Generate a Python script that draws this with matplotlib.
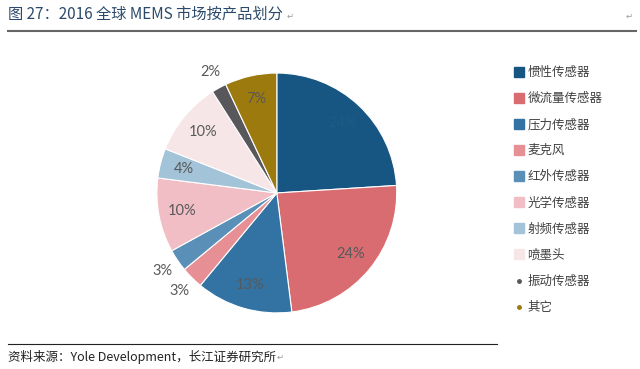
import numpy as np
import matplotlib.pyplot as plt
from matplotlib.lines import Line2D

plt.rcParams['font.family'] = ['Noto Sans CJK SC', 'DejaVu Sans']

# 2016 全球 MEMS 市场按产品划分
labels = ['惯性传感器', '微流量传感器', '压力传感器', '麦克风', '红外传感器',
          '光学传感器', '射频传感器', '喷墨头', '振动传感器', '其它']
shares = [24, 24, 13, 3, 3, 10, 4, 10, 2, 7]
colors = ['#175683', '#D96C71', '#3273A3', '#E68F95', '#5A8FB8',
          '#F0BEC4', '#A3C3D8', '#F6E6E8', '#58585C', '#9C7A0E']
outside = [3, 4, 8]  # small slices labelled outside the pie

fig = plt.figure(figsize=(6.4, 3.69), dpi=100)
fig.patch.set_facecolor('white')

ax = fig.add_axes([0.245, 0.152, 0.375, 0.65])
wedges, texts, autotexts = ax.pie(
    shares, colors=colors, startangle=90, counterclock=False,
    autopct='%d%%', pctdistance=0.8,
    wedgeprops=dict(edgecolor='white', linewidth=0.8),
    textprops=dict(color='#595959', fontsize=10.5, family=['Lato', 'DejaVu Sans']))
for i, t in enumerate(autotexts):
    if i in outside:
        w = wedges[i]
        ang = np.deg2rad((w.theta1 + w.theta2) / 2)
        t.set_position((1.15 * np.cos(ang), 1.15 * np.sin(ang)))
autotexts[0].set_color('#1E5A86')
ax.set_xlim(-1, 1)
ax.set_ylim(-1, 1)
ax.set_aspect('equal')

# legend
handles = []
for i, (lab, c) in enumerate(zip(labels, colors)):
    if i < 8:
        handles.append(Line2D([], [], marker='s', linestyle='none', markersize=7,
                              markerfacecolor=c, markeredgecolor=c, label=lab))
    else:
        handles.append(Line2D([], [], marker='o', linestyle='none', markersize=2.5,
                              markerfacecolor=c, markeredgecolor=c, label=lab))
leg = fig.legend(handles=handles, loc='upper left', bbox_to_anchor=(0.795, 0.835),
                 frameon=False, fontsize=9, labelspacing=1.05, handlelength=0.8,
                 handletextpad=0.3, borderaxespad=0)
for t in leg.get_texts():
    t.set_color('#404040')

# title, rules, source
fig.text(0.0125, 0.962, '图 27：2016 全球 MEMS 市场按产品划分', fontsize=11,
         color='#2B4A6B', va='center', ha='left')
fig.text(0.447, 0.957, '↵', fontsize=6, color='#999999', va='center')
fig.text(0.978, 0.957, '↵', fontsize=6, color='#999999', va='center')
fig.add_artist(Line2D([0.0125, 0.993], [0.916, 0.916], color='#666666', lw=1.5))
fig.add_artist(Line2D([0.0125, 0.777], [0.068, 0.068], color='#222222', lw=0.8))
fig.text(0.0125, 0.033, '资料来源：Yole Development，长江证券研究所', fontsize=9,
         color='#222222', va='center', ha='left')
fig.text(0.432, 0.033, '↵', fontsize=6, color='#999999', va='center')

fig.savefig('out.png', dpi=100)
